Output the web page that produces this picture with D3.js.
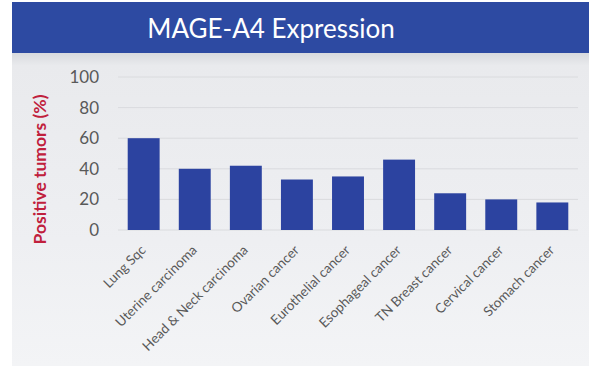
<!DOCTYPE html>
<html>
<head>
<meta charset="utf-8">
<script src="https://cdn.jsdelivr.net/npm/d3@7"></script>
<style>
  html, body { margin: 0; padding: 0; background: #ffffff; }
  svg { display: block; }
</style>
</head>
<body>
<svg id="chart" width="589" height="366"></svg>
<script>
// MAGE-A4 expression by tumour type
const categories = [
  "Lung Sqc", "Uterine carcinoma", "Head & Neck carcinoma", "Ovarian cancer",
  "Eurothelial cancer", "Esophageal cancer", "TN Breast cancer",
  "Cervical cancer", "Stomach cancer"
];
const positivePct = [60, 40, 42, 33, 35, 46, 24, 20, 18];
const yTicks = [0, 20, 40, 60, 80, 100];
const titleText = "MAGE-A4 Expression";
const yLabel = "Positive tumors (%)";

const W = 589, H = 366;
const svg = d3.select("#chart");
const defs = svg.append("defs");

// panel background with a soft shade under the banner
const bg = defs.append("linearGradient").attr("id", "panelBg")
  .attr("x1", 0).attr("y1", 0).attr("x2", 0).attr("y2", 1);
bg.append("stop").attr("offset", "0%").attr("stop-color", "#d8dade");
bg.append("stop").attr("offset", "4%").attr("stop-color", "#e9eaed");
bg.append("stop").attr("offset", "60%").attr("stop-color", "#eeeff2");
bg.append("stop").attr("offset", "100%").attr("stop-color", "#f3f4f6");

svg.append("rect").attr("x", 12).attr("y", 53).attr("width", W - 12).attr("height", H - 53)
  .attr("fill", "url(#panelBg)");

// title banner
svg.append("rect").attr("x", 12).attr("y", 2).attr("width", W - 12).attr("height", 51)
  .attr("fill", "#2d4aa2");
svg.append("text")
  .attr("x", 271).attr("y", 38)
  .attr("text-anchor", "middle")
  .attr("font-family", "Lato, 'Open Sans', sans-serif")
  .attr("font-size", 26)
  .attr("fill", "#ffffff")
  .text(titleText);

// plot area
const plot = { left: 118, right: 578, top: 77, bottom: 230 };

const x = d3.scaleBand()
  .domain(categories)
  .range([plot.left, plot.right])
  .paddingInner(0.375)
  .paddingOuter(0.19);

const y = d3.scaleLinear()
  .domain([0, 100])
  .range([plot.bottom, plot.top]);

// gridlines
svg.append("g")
  .selectAll("line")
  .data(yTicks)
  .join("line")
  .attr("x1", plot.left).attr("x2", plot.right)
  .attr("y1", d => y(d)).attr("y2", d => y(d))
  .attr("stroke", "#dadbde")
  .attr("stroke-width", 1);

// y axis tick labels
const yAxis = d3.axisLeft(y).tickValues(yTicks).tickSize(0).tickPadding(19);
const gy = svg.append("g")
  .attr("transform", `translate(${plot.left},0)`)
  .call(yAxis);
gy.select(".domain").remove();
gy.selectAll("text")
  .attr("font-family", "Lato, 'Open Sans', sans-serif")
  .attr("font-size", 17)
  .attr("fill", "#595959");

// bars
svg.append("g")
  .selectAll("rect")
  .data(categories.map((c, i) => ({ c, v: positivePct[i] })))
  .join("rect")
  .attr("x", d => x(d.c))
  .attr("y", d => y(d.v))
  .attr("width", x.bandwidth())
  .attr("height", d => y(0) - y(d.v))
  .attr("fill", "#2c43a0");

// category labels, rotated
const xAxis = d3.axisBottom(x).tickSize(0).tickPadding(0);
const gx = svg.append("g")
  .attr("transform", `translate(0,${plot.bottom})`)
  .call(xAxis);
gx.select(".domain").remove();
gx.selectAll("text")
  .attr("font-family", "Lato, 'Open Sans', sans-serif")
  .attr("font-size", 13.5)
  .attr("fill", "#595959")
  .attr("text-anchor", "end")
  .attr("dy", null)
  .attr("y", 0)
  .attr("transform", "translate(3,21) rotate(-45)");

// y axis title
svg.append("text")
  .attr("transform", `translate(46,${(plot.top + plot.bottom) / 2 + 16}) rotate(-90)`)
  .attr("text-anchor", "middle")
  .attr("font-family", "Lato, 'Open Sans', sans-serif")
  .attr("font-weight", "bold")
  .attr("font-size", 17.5)
  .attr("fill", "#c0203c")
  .text(yLabel);
</script>
</body>
</html>
